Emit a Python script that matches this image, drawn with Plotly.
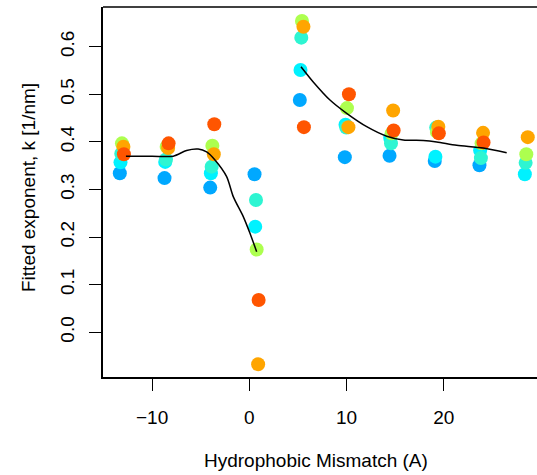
import plotly.graph_objects as go

# Cluster centres (hydrophobic mismatch, A)
mismatch = [-13.1, -8.5, -3.8, 0.76, 5.42, 10.05, 14.65, 19.3, 23.9, 28.5]

# Series (drawing order), small horizontal offsets as in the original
series_names = ["s1", "s2", "s3", "s4", "s5", "s6"]
series_colors = ["#00A8FF", "#00F2FF", "#2EF5D2", "#ADFF4F", "#FFA500", "#FF5500"]
series_offsets = [-0.22, -0.15, -0.07, 0.0, 0.15, 0.2]
series_values = [
    [0.334, 0.324, 0.304, 0.332, 0.488, 0.368, 0.371, 0.360, 0.351, None],   # blue
    [0.357, 0.358, 0.334, 0.222, 0.551, 0.436, 0.408, 0.369, 0.382, 0.332],  # cyan
    [0.375, 0.363, 0.348, 0.278, 0.619, 0.430, 0.397, 0.430, 0.366, 0.356],  # aquamarine
    [0.397, 0.390, 0.392, 0.174, 0.654, 0.471, 0.418, 0.421, 0.397, 0.374],  # green-yellow
    [0.390, 0.387, 0.374, -0.067, 0.642, 0.431, 0.466, 0.432, 0.419, 0.410], # orange
    [0.374, 0.397, 0.437, 0.068, 0.431, 0.500, 0.424, 0.418, 0.399, None],   # orange-red
]

# Smoothed fit curve (two segments)
fit_left_x = [-12.69, -10.0, -7.82, -6.45, -5.26, -4.39, -3.53, -2.33, -1.65, -0.62, 0.07, 0.76]
fit_left_y = [0.370, 0.370, 0.370, 0.382, 0.385, 0.379, 0.362, 0.327, 0.285, 0.243, 0.208, 0.169]
fit_right_x = [5.32, 6.58, 8.30, 10.02, 12.08, 14.14, 15.84, 17.90, 19.28, 21.34, 24.07, 26.48]
fit_right_y = [0.558, 0.526, 0.488, 0.460, 0.432, 0.412, 0.404, 0.403, 0.400, 0.393, 0.387, 0.377]

x_ticks = [-10, 0, 10, 20]
y_ticks = [0.0, 0.1, 0.2, 0.3, 0.4, 0.5, 0.6]

FONT = "Liberation Sans, Arial, Helvetica, sans-serif"
FS = 19

fig = go.Figure()
for name, col, off, vals in zip(series_names, series_colors, series_offsets, series_values):
    xs, ys = [], []
    for xc, v in zip(mismatch, vals):
        if v is not None:
            xs.append(xc + off)
            ys.append(v)
    fig.add_trace(go.Scatter(x=xs, y=ys, mode="markers", name=name,
                             marker=dict(color=col, size=14, line=dict(width=0)),
                             showlegend=False, hoverinfo="skip"))

for fx, fy in [(fit_left_x, fit_left_y), (fit_right_x, fit_right_y)]:
    fig.add_trace(go.Scatter(x=fx, y=fy, mode="lines",
                             line=dict(color="black", width=1.5, shape="spline", smoothing=0.8),
                             showlegend=False, hoverinfo="skip"))

W, H = 537, 475
L, R, T, B = 103, 0, 7, 98
pw = W - L - R
ph = H - T - B
px_per_x = 9.72
x0 = -15.05
x1 = x0 + pw / px_per_x

fig.update_layout(
    width=W, height=H,
    margin=dict(l=L, r=R, t=T, b=B),
    paper_bgcolor="white", plot_bgcolor="white",
    font=dict(family=FONT, size=FS, color="black"),
    xaxis=dict(range=[x0, x1], tickvals=x_ticks, ticktext=["\u221210", "0", "10", "20"],
               ticks="outside", ticklen=12, tickwidth=1, tickcolor="black",
               showline=True, linecolor="black", linewidth=1.5,
               showgrid=False, zeroline=False, ticklabelstandoff=10,
               tickfont=dict(size=FS, family=FONT)),
    yaxis=dict(range=[-0.0939, 0.6834], tickvals=y_ticks,
               ticktext=["0.0", "0.1", "0.2", "0.3", "0.4", "0.5", "0.6"],
               tickangle=-90,
               ticks="outside", ticklen=12, tickwidth=1, tickcolor="black",
               showline=True, linecolor="black", linewidth=1.5,
               showgrid=False, zeroline=False, ticklabelstandoff=8,
               tickfont=dict(size=FS, family=FONT)),
    shapes=[dict(type="line", xref="paper", yref="paper", x0=0, x1=1, y0=1, y1=1,
                 line=dict(color="black", width=1.5))],
    annotations=[
        dict(text="Hydrophobic Mismatch (A)", xref="paper", yref="paper",
             x=(315.5 - L) / pw, y=-(460 - (T + ph)) / ph, xanchor="center", yanchor="middle",
             showarrow=False, font=dict(size=FS, family=FONT)),
        dict(text="Fitted exponent, k [1/nm]", xref="paper", yref="paper",
             x=-(L - 28) / pw, y=(T + ph - 188) / ph, xanchor="center", yanchor="middle",
             textangle=-90, showarrow=False, font=dict(size=FS, family=FONT)),
    ],
)

fig.write_html("out.html")
